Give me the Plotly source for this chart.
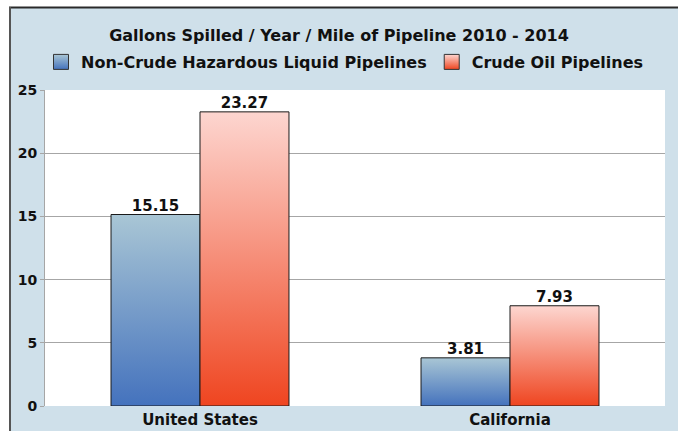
import plotly.graph_objects as go

# ---- data ----
categories = ["United States", "California"]
series_names = ["Non-Crude Hazardous Liquid Pipelines", "Crude Oil Pipelines"]
non_crude = [15.15, 3.81]
crude = [23.27, 7.93]
y_ticks = [0, 5, 10, 15, 20, 25]

# ---- style ----
W, H = 678, 431
ML, MR, MT, MB = 45, 13, 90, 25
PW, PH = W - ML - MR, H - MT - MB
FONT = "DejaVu Sans, Liberation Sans, Arial, sans-serif"
BG = "#cfe0ea"
GRID = "#a6a6a6"
grad = {
    series_names[0]: ("#4472bd", "#a9c6d5"),   # bottom, top
    series_names[1]: ("#ef4520", "#fdd6d0"),
}
half = 0.287  # each bar width in category units

fig = go.Figure()

for si, (name, vals) in enumerate(zip(series_names, [non_crude, crude])):
    dark, light = grad[name]
    for ci, v in enumerate(vals):
        x0 = ci - half if si == 0 else ci
        x1 = ci if si == 0 else ci + half
        fig.add_trace(go.Scatter(
            x=[x0, x1, x1, x0, x0], y=[0, 0, v, v, 0],
            mode="lines", fill="toself",
            line=dict(color="#1a1a1a", width=1),
            fillgradient=dict(type="vertical",
                              colorscale=[[0, dark], [1, light]]),
            showlegend=False, hoverinfo="skip",
        ))
        fig.add_trace(go.Scatter(
            x=[(x0 + x1) / 2], y=[v], mode="text",
            text=[f"{v:.2f}"], textposition="top center",
            textfont=dict(family=FONT, size=15, color="#111", weight="bold"),
            showlegend=False, hoverinfo="skip",
        ))
    # legend entry
    fig.add_trace(go.Scatter(
        x=[None], y=[None], mode="markers", name=name,
        marker=dict(symbol="square", size=15, color=light,
                    gradient=dict(type="vertical", color=dark),
                    line=dict(color="#333", width=1)),
    ))

def px_x(X):
    return (X - ML) / PW

def px_y(Y):
    return (H - MB - Y) / PH

shapes = [
    dict(type="rect", xref="paper", yref="paper", x0=px_x(-5), x1=px_x(W + 5),
         y0=px_y(7), y1=px_y(-5), fillcolor="white", line_width=0, layer="above"),
    dict(type="rect", xref="paper", yref="paper", x0=px_x(-5), x1=px_x(9),
         y0=px_y(H + 5), y1=px_y(-5), fillcolor="white", line_width=0, layer="above"),
    dict(type="line", xref="paper", yref="paper", x0=px_x(9), x1=px_x(W + 5),
         y0=px_y(7.5), y1=px_y(7.5), line=dict(color="#2a2a2a", width=2), layer="above"),
    dict(type="line", xref="paper", yref="paper", x0=px_x(10), x1=px_x(10),
         y0=px_y(7), y1=px_y(H + 5), line=dict(color="#555", width=2), layer="above"),
]

fig.update_layout(
    width=W, height=H,
    margin=dict(l=ML, r=MR, t=MT, b=MB, autoexpand=False),
    paper_bgcolor=BG, plot_bgcolor="white",
    title=dict(text="Gallons Spilled / Year / Mile of Pipeline 2010 - 2014",
               x=px_x(339), xanchor="center", xref="paper",
               y=1 - 35 / H, yanchor="middle",
               font=dict(family=FONT, size=16, color="#111", weight="bold")),
    legend=dict(orientation="h", x=px_x(345), xanchor="center", y=px_y(62),
                yanchor="middle", xref="paper", yref="paper",
                font=dict(family=FONT, size=16, color="#111", weight="bold"),
                bgcolor="rgba(0,0,0,0)", itemwidth=30),
    xaxis=dict(range=[-0.5, 1.5], tickvals=[0, 1], ticktext=categories,
               showgrid=False, zeroline=False, showline=False,
               ticks="", ticklabelstandoff=3,
               tickfont=dict(family=FONT, size=15, color="#111", weight="bold"),
               fixedrange=True),
    yaxis=dict(range=[0, 25], tickvals=y_ticks, showgrid=True, gridcolor=GRID,
               gridwidth=1, zeroline=False, showline=True, linecolor=GRID,
               linewidth=1, ticks="outside", ticklen=4, tickcolor=GRID,
               tickfont=dict(family=FONT, size=14, color="#111", weight="bold"),
               fixedrange=True),
    shapes=shapes,
    showlegend=True,
)

fig.write_html("out.html")
